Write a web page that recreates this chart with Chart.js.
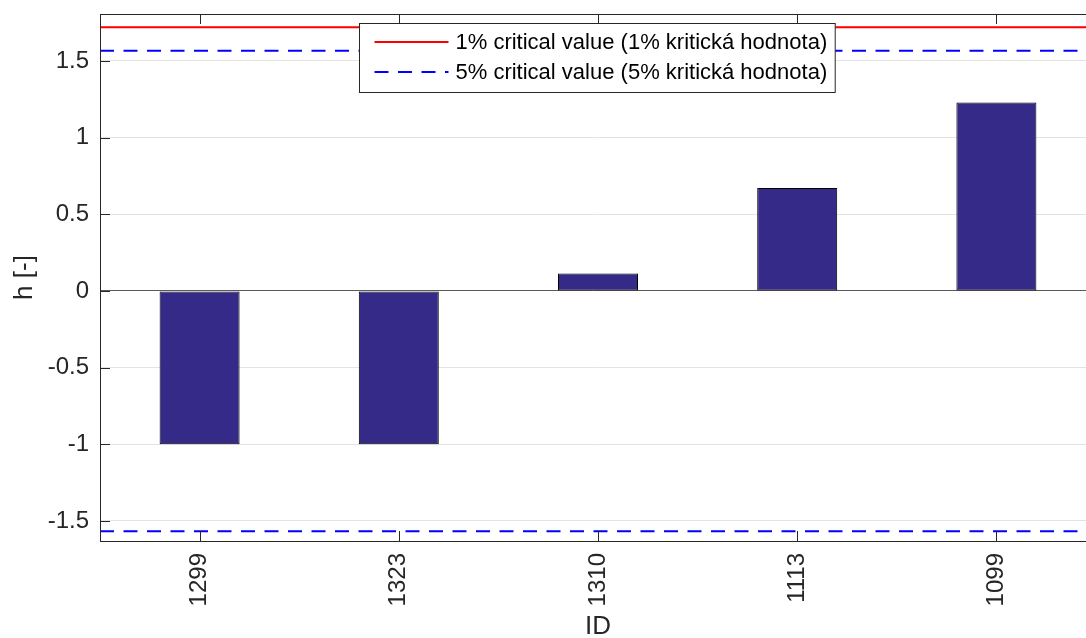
<!DOCTYPE html>
<html>
<head>
<meta charset="utf-8">
<title>h [-] by ID</title>
<script src="https://cdn.jsdelivr.net/npm/chart.js@4.4.1/dist/chart.umd.min.js"></script>
<style>
  html, body { margin: 0; padding: 0; background: #fff; }
  canvas { display: block; }
</style>
</head>
<body>
<canvas id="chart" width="1086" height="638"></canvas>
<script>
// station IDs and their h statistic
const ids = ['1299', '1323', '1310', '1113', '1099'];
const hValues = [-1.0, -1.0, 0.113, 0.672, 1.229];

// critical values of the test (symmetric, drawn at +/-)
const crit1 = 1.72;
const crit5 = 1.567;

const yTicks = [-1.5, -1, -0.5, 0, 0.5, 1, 1.5];
const yMin = -1.631;
const yMax = 1.806;

const FONT = '"Liberation Sans", Arial, Helvetica, sans-serif';
const AXIS = '#262626';
// the right edge of the axes box sits just past the canvas
const RIGHT_OVERHANG = 10;

const barData = hValues.map((v, i) => ({x: i + 1, y: v}));
const xLo = 0.5, xHi = ids.length + 0.5;
const critLine = (c) => [
  {x: xLo, y: c}, {x: xHi, y: c},
  {x: xHi, y: null},
  {x: xLo, y: -c}, {x: xHi, y: -c}
];

// box, inward ticks and the in-plot legend
const matlabAxes = {
  id: 'matlabAxes',
  afterLayout(chart) {
    const a = chart.chartArea, xs = chart.scales.x;
    a.right += RIGHT_OVERHANG;
    a.width += RIGHT_OVERHANG;
    xs.right += RIGHT_OVERHANG;
    xs.width += RIGHT_OVERHANG;
    xs.configure();
  },
  afterDraw(chart) {
    const {ctx, chartArea: a, scales} = chart;
    const L = 10;
    ctx.save();
    ctx.strokeStyle = AXIS;
    ctx.lineWidth = 1;
    ctx.setLineDash([]);
    ctx.strokeRect(a.left + 0.5, a.top + 0.5, a.right - a.left - 1, a.bottom - a.top);
    ctx.beginPath();
    ids.forEach((_, i) => {
      const x = Math.round(scales.x.getPixelForValue(i + 1)) + 0.5;
      ctx.moveTo(x, a.top); ctx.lineTo(x, a.top + L);
      ctx.moveTo(x, a.bottom); ctx.lineTo(x, a.bottom - L);
    });
    yTicks.forEach(v => {
      const y = Math.round(scales.y.getPixelForValue(v)) + 0.5;
      ctx.moveTo(a.left, y); ctx.lineTo(a.left + L, y);
      ctx.moveTo(a.right, y); ctx.lineTo(a.right - L, y);
    });
    ctx.stroke();

    // legend
    const items = chart.data.datasets.filter(d => d.type === 'line');
    ctx.font = '22px ' + FONT;
    const textW = Math.max(...items.map(d => ctx.measureText(d.label).width));
    const bx = 359.5, by = 23.5, rowH = 30;
    const bw = 15 + 74 + 7 + textW + 8;
    const bh = 69;
    ctx.fillStyle = '#fff';
    ctx.fillRect(bx, by, bw, bh);
    ctx.strokeStyle = AXIS;
    ctx.lineWidth = 1;
    ctx.strokeRect(bx, by, bw, bh);
    items.forEach((d, i) => {
      const y = 42 + i * rowH;
      ctx.beginPath();
      ctx.strokeStyle = d.borderColor;
      ctx.lineWidth = d.borderWidth;
      ctx.setLineDash(d.borderDash || []);
      ctx.moveTo(bx + 15, y);
      ctx.lineTo(bx + 15 + 74, y);
      ctx.stroke();
      ctx.setLineDash([]);
      ctx.fillStyle = '#000';
      ctx.textAlign = 'left';
      ctx.textBaseline = 'middle';
      ctx.fillText(d.label, bx + 96, y + 1);
    });
    ctx.restore();
  }
};

new Chart(document.getElementById('chart'), {
  type: 'bar',
  data: {
    datasets: [{
      label: 'h',
      data: barData,
      backgroundColor: '#352a87',
      borderColor: '#000000',
      borderWidth: 1,
      borderSkipped: false,
      inflateAmount: 0,
      categoryPercentage: 1,
      barPercentage: 80 / 199.2
    }, {
      type: 'line',
      label: '1% critical value (1% kritická hodnota)',
      data: critLine(crit1),
      borderColor: '#ff0000',
      borderWidth: 2,
      pointRadius: 0,
      spanGaps: false
    }, {
      type: 'line',
      label: '5% critical value (5% kritická hodnota)',
      data: critLine(crit5),
      borderColor: '#0000ff',
      borderWidth: 2,
      borderDash: [14, 9.5],
      pointRadius: 0,
      spanGaps: false
    }]
  },
  options: {
    responsive: false,
    animation: false,
    devicePixelRatio: 1,
    layout: {padding: {top: 14, right: 0, left: 0, bottom: 0}},
    plugins: {
      legend: {display: false},
      tooltip: {enabled: false}
    },
    scales: {
      x: {
        type: 'linear',
        min: xLo,
        max: xHi,
        offset: false,
        afterBuildTicks: s => { s.ticks = ids.map((_, i) => ({value: i + 1})); },
        afterFit: s => { s.height = 97; s.paddingLeft = 0; s.paddingRight = 0; },
        grid: {display: false, drawTicks: false},
        border: {display: false},
        ticks: {
          autoSkip: false,
          minRotation: 90,
          maxRotation: 90,
          padding: 12,
          color: AXIS,
          font: {family: FONT, size: 24},
          callback: v => ids[v - 1]
        },
        title: {
          display: true,
          text: 'ID',
          color: AXIS,
          font: {family: FONT, size: 26, lineHeight: 0.85},
          padding: 0
        }
      },
      y: {
        min: yMin,
        max: yMax,
        afterBuildTicks: s => { s.ticks = yTicks.map(v => ({value: v})); },
        afterFit: s => { s.width = 100; s.paddingTop = 0; s.paddingBottom = 0; },
        grid: {
          drawTicks: false,
          color: c => c.tick && c.tick.value === 0 ? '#595959' : '#e3e3e3',
          lineWidth: 1
        },
        border: {display: false},
        ticks: {
          padding: 11,
          color: AXIS,
          font: {family: FONT, size: 24},
          callback: v => String(v)
        },
        title: {
          display: true,
          text: 'h [-]',
          color: AXIS,
          font: {family: FONT, size: 26, lineHeight: 1},
          padding: {top: 12, bottom: 0}
        }
      }
    }
  },
  plugins: [matlabAxes]
});
</script>
</body>
</html>
